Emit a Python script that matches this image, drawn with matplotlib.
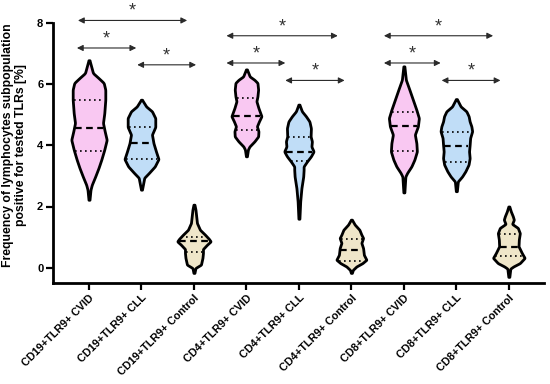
import numpy as np
import matplotlib
matplotlib.use("Agg")
import matplotlib.pyplot as plt

plt.rcParams['font.family'] = ['Liberation Sans', 'DejaVu Sans']
plt.rcParams['font.weight'] = 'bold'

# categories
labels = ['CD19+TLR9+ CVID', 'CD19+TLR9+ CLL', 'CD19+TLR9+ Control',
          'CD4+TLR9+ CVID', 'CD4+TLR9+ CLL', 'CD4+TLR9+ Control',
          'CD8+TLR9+ CVID', 'CD8+TLR9+ CLL', 'CD8+TLR9+ Control']
groups = ['CVID', 'CLL', 'Control'] * 3

# violin outlines: value levels and relative density (half width)
prof_y = [
    [2.22, 2.55, 2.71, 2.98, 3.26, 3.53, 3.86, 4.18, 4.46, 4.73, 5.05, 5.49, 5.82, 6.04, 6.2, 6.36, 6.78],
    [2.55, 2.94, 3.1, 3.31, 3.55, 3.8, 4.07, 4.35, 4.6, 4.89, 5.11, 5.27, 5.49],
    [-0.17, -0.01, 0.1, 0.32, 0.48, 0.61, 0.75, 0.86, 0.94, 1.08, 1.24, 1.46, 1.9, 2.06],
    [3.64, 3.86, 3.96, 4.13, 4.29, 4.46, 4.62, 4.78, 4.95, 5.22, 5.44, 5.6, 5.82, 6.04, 6.14, 6.25, 6.48],
    [1.6, 2.17, 2.6, 2.98, 3.2, 3.31, 3.47, 3.64, 3.8, 3.96, 4.13, 4.29, 4.56, 4.78, 4.95, 5.11, 5.33],
    [-0.17, -0.07, 0.04, 0.15, 0.26, 0.42, 0.64, 0.81, 0.97, 1.08, 1.24, 1.41, 1.57],
    [2.46, 2.98, 3.1, 3.31, 3.53, 3.8, 4.07, 4.35, 4.62, 4.89, 5.16, 5.49, 5.82, 6.14, 6.58],
    [2.5, 2.82, 2.98, 3.15, 3.37, 3.58, 3.8, 4.02, 4.24, 4.46, 4.62, 4.78, 4.95, 5.11, 5.27, 5.51],
    [-0.3, -0.03, 0.04, 0.15, 0.32, 0.48, 0.7, 0.92, 1.13, 1.3, 1.43, 1.57, 1.68, 1.84, 2.0],
]
prof_w = [
    [0.5, 1.5, 2.8, 6.2, 9.5, 12.3, 15.3, 17.7, 15.7, 14, 15.3, 16.3, 16.3, 14.7, 9.5, 4, 0.5],
    [0.5, 2.8, 7.5, 13.3, 17, 14.5, 12, 10.5, 13.8, 13.8, 10.5, 4.7, 0.5],
    [0.5, 1.5, 7, 8.5, 9, 9, 13, 16.7, 15, 11, 6, 3, 1.5, 0.5],
    [0.5, 1.5, 3, 8, 11.7, 12, 10.5, 12.5, 15, 12, 10, 11, 11.7, 11, 8, 3.3, 0.5],
    [0.5, 1.3, 2.5, 4.3, 4.7, 4.7, 8, 12, 14.7, 12.5, 13, 11.7, 12, 10.5, 7, 3, 0.5],
    [0.5, 1.5, 5, 11, 15, 12.5, 11.7, 10, 11.7, 10, 8, 3.3, 0.5],
    [0.5, 1.5, 3.3, 7.5, 10.5, 13, 12.5, 11, 14, 15, 12.5, 9, 5.5, 2, 0.5],
    [0.5, 1.5, 5.7, 9, 12.2, 13.3, 12.7, 13.3, 13.8, 15.8, 15, 13.3, 12.3, 10, 4.3, 0.5],
    [0.5, 1.5, 4.5, 11, 15.8, 13, 9.7, 10, 11, 9, 3.3, 5, 4, 2, 0.5],
]
width_scale = 52.5  # density units per category step

# quartiles (q1, median, q3)
q1 = [3.83, 3.55, 0.5, 4.51, 3.5, 0.21, 3.83, 3.47, 0.39]
med = [4.57, 4.07, 0.86, 4.95, 3.78, 0.57, 4.62, 3.97, 0.68]
q3 = [5.49, 4.6, 0.99, 5.55, 4.26, 0.94, 5.08, 4.42, 1.1]

# significance brackets: (start, end, level)
brackets = [(-0.23, 0.9, 7.18), (-0.21, 1.87, 8.08), (0.92, 2.04, 6.63),
            (2.62, 3.74, 6.69), (2.62, 4.74, 7.58), (3.74, 4.87, 6.12),
            (5.62, 6.7, 6.69), (5.62, 7.7, 7.58), (6.72, 7.84, 6.12)]

colors = {'CVID': '#F9C8F2', 'CLL': '#C0DDF7', 'Control': '#EFE6C9'}

fig = plt.figure(figsize=(5.5, 3.84), dpi=100)
ax = fig.add_axes([53 / 550, 101 / 384, 491 / 550, 275.4 / 384])


def outline(ys, ws):
    grid = np.linspace(ys[0], ys[-1], 300)
    w = np.interp(grid, ys, ws)
    k = np.ones(5) / 5
    w = np.convolve(np.pad(w, 2, mode='edge'), k, mode='valid')
    return grid, w / width_scale


for i in range(len(labels)):
    yy, ww = outline(prof_y[i], prof_w[i])
    ax.fill_betweenx(yy, i - ww, i + ww, facecolor=colors[groups[i]],
                     edgecolor='black', lw=2, zorder=2)
    for val, ls, lw in [(q1[i], (0, (1, 2)), 1.2), (med[i], (0, (3, 2)), 1.6),
                        (q3[i], (0, (1, 2)), 1.2)]:
        hw = np.interp(val, yy, ww) - 0.02
        ax.plot([i - hw, i + hw], [val, val], color='black', ls=ls, lw=lw, zorder=3)

for x0, x1, lev in brackets:
    ax.annotate('', xy=(x1, lev), xytext=(x0, lev),
                arrowprops=dict(arrowstyle='<|-|>', color='#2a2a2a', lw=0.8,
                                mutation_scale=9, shrinkA=0, shrinkB=0))
    ax.text((x0 + x1) / 2, lev + 0.3, '*', ha='center', va='center',
            fontsize=13, fontweight='normal', color='#333333')

ax.set_xlim(-0.686, 8.67)
ax.set_ylim(-0.5, 8.5)
ax.set_xticks(range(len(labels)))
ax.set_xticklabels(labels, rotation=45, ha='right', rotation_mode='anchor',
                   fontsize=7.8, fontweight='bold')
ax.set_yticks([0, 2, 4, 6, 8])
ax.set_yticklabels(['0', '2', '4', '6', '8'], fontsize=8, fontweight='bold')
ax.tick_params(axis='both', width=1.6, length=5, pad=2)
for s in ['top', 'right']:
    ax.spines[s].set_visible(False)
for s in ['left', 'bottom']:
    ax.spines[s].set_linewidth(2)
ax.spines['left'].set_bounds(-0.5, 8)
ax.set_ylabel('Frequency of lymphocytes subpopulation\npositive for tested TLRs [%]',
              fontsize=8.8, fontweight='bold', labelpad=7, linespacing=1.15)

fig.savefig('out.png', dpi=100)
